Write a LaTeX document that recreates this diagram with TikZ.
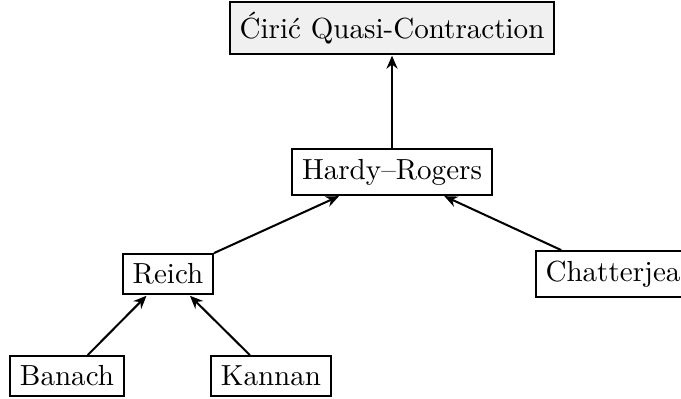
\documentclass[tikz,border=0pt]{standalone}
\usetikzlibrary{arrows.meta}
\begin{document}
\begin{tikzpicture}[x=0.344pt,y=-0.344pt,
  box/.style={draw,line width=0.7pt,inner sep=3.33pt,fill=white},
  topbox/.style={box,fill=black!6},
  link/.style={line width=0.7pt,-{Stealth[length=4.5pt,width=3.8pt]},shorten >=0.3pt}]
\useasboundingbox (0,0) rectangle (681,398);
\node[topbox] (ciric) at (392,28) {\'Ciri\'c Quasi-Contraction};
\node[box] (hr) at (392,172) {Hardy--Rogers};
\node[box] (reich) at (168,274) {Reich};
\node[box] (chat) at (613,274) {Chatterjea};
\node[box] (banach) at (67,376) {Banach};
\node[box] (kannan) at (271,376) {Kannan};
\draw[link] (hr) -- (ciric);
\draw[link] (reich) -- (hr);
\draw[link] (chat) -- (hr);
\draw[link] (banach) -- (reich);
\draw[link] (kannan) -- (reich);
\end{tikzpicture}
\end{document}
